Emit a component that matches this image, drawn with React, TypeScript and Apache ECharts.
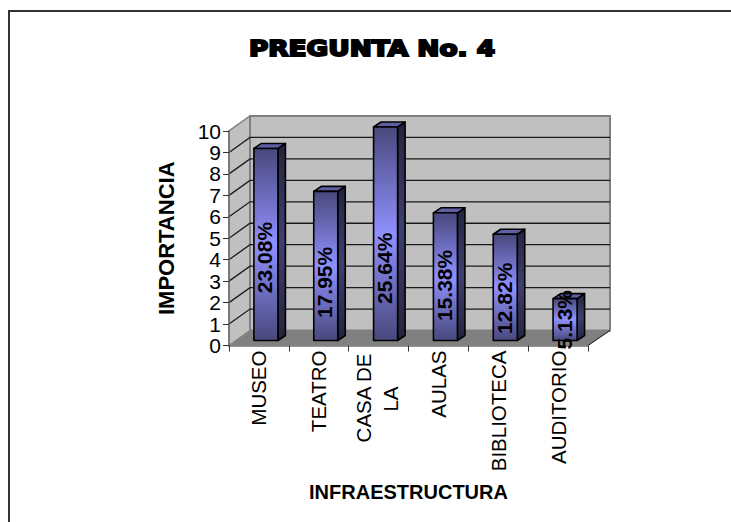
import React, { useEffect, useRef } from "react";
import * as echarts from "echarts";

const categories = ["MUSEO", "TEATRO", "CASA DE\nLA", "AULAS", "BIBLIOTECA", "AUDITORIO"];
const importance = [9, 7, 10, 6, 5, 2];
const percentLabels = ["23.08%", "17.95%", "25.64%", "15.38%", "12.82%", "5.13%"];
// Height on the value scale at which each rotated percentage is centred
const labelAnchors = [4.1, 2.94, 3.6, 2.8, 2.2, 1.2];
const valueTicks = [1, 2, 3, 4, 5, 6, 7, 8, 9];

const FONT = '"Liberation Sans", Arial, sans-serif';
const WALL_DX = 21;
const WALL_DY = -15;
const BAR_W = 24;
const BAR_DX = 7.5;
const BAR_DY = -5;
const BAR_SHIFT_X = 7;
const BAR_SHIFT_Y = -5;

function renderWalls(_params: any, api: any) {
  const band = api.size([1, 0])[0];
  const x0 = api.coord([0, 0])[0] - band / 2;
  const x1 = api.coord([categories.length - 1, 0])[0] + band / 2;
  const y0 = api.coord([0, 0])[1];
  const y10 = api.coord([0, 10])[1];
  const bx0 = x0 + WALL_DX;
  const bx1 = x1 + WALL_DX + 1;
  const by0 = y0 + WALL_DY;
  const by10 = y10 + WALL_DY;
  const children: any[] = [
    {
      type: "polygon",
      shape: { points: [[x0, y0], [bx0, by0], [bx0, by10], [x0, y10]] },
      style: { fill: "#c0c0c0", stroke: "#808080", lineWidth: 1.5 },
    },
    {
      type: "rect",
      shape: { x: bx0, y: by10, width: bx1 - bx0, height: by0 - by10 },
      style: { fill: "#c0c0c0", stroke: "#808080", lineWidth: 2 },
    },
    {
      type: "polygon",
      shape: { points: [[x0, y0], [bx0, by0], [bx1, by0], [x1, y0]] },
      style: { fill: "#808080" },
    },
    {
      type: "line",
      shape: { x1, y1: y0, x2: bx1, y2: by0 },
      style: { stroke: "#111", lineWidth: 1 },
    },
  ];
  valueTicks.forEach((v) => {
    const y = api.coord([0, v])[1];
    children.push({
      type: "polyline",
      shape: { points: [[x0, y], [bx0, y + WALL_DY], [bx1, y + WALL_DY]] },
      style: { fill: "none", stroke: "#1a1a1a", lineWidth: 1.3 },
    });
  });
  return { type: "group", children };
}

function renderBar(params: any, api: any) {
  const idx = api.value(0);
  const value = api.value(1);
  const [cx, top] = api.coord([idx, value]);
  const [, base] = api.coord([idx, 0]);
  const x = cx + BAR_SHIFT_X - BAR_W / 2;
  const yT = top + BAR_SHIFT_Y + 1;
  const yB = base + BAR_SHIFT_Y;
  const xR = x + BAR_W;
  const edge = { stroke: "#000", lineWidth: 1.6, lineJoin: "round" };
  const labelY = api.coord([idx, labelAnchors[params.dataIndex]])[1];
  return {
    type: "group",
    children: [
      {
        type: "polygon",
        shape: { points: [[xR, yT], [xR + BAR_DX, yT + BAR_DY], [xR + BAR_DX, yB + BAR_DY], [xR, yB]] },
        style: {
          ...edge,
          fill: new echarts.graphic.LinearGradient(0, 0, 0, 1, [
            { offset: 0, color: "#23233f" },
            { offset: 0.5, color: "#40406f" },
            { offset: 1, color: "#23233f" },
          ]),
        },
      },
      {
        type: "polygon",
        shape: { points: [[x, yT], [x + BAR_DX, yT + BAR_DY], [xR + BAR_DX, yT + BAR_DY], [xR, yT]] },
        style: { ...edge, fill: "#5f5fa6" },
      },
      {
        type: "rect",
        shape: { x, y: yT, width: BAR_W, height: yB - yT },
        style: {
          ...edge,
          fill: new echarts.graphic.LinearGradient(0, 0, 0, 1, [
            { offset: 0, color: "#48487c" },
            { offset: 0.5, color: "#9090ff" },
            { offset: 1, color: "#48487c" },
          ]),
        },
      },
      {
        type: "text",
        x: cx + BAR_SHIFT_X - 1,
        y: labelY,
        rotation: Math.PI / 2,
        style: {
          text: percentLabels[params.dataIndex],
          font: `bold 21px ${FONT}`,
          fill: "#000",
          align: "center",
          verticalAlign: "middle",
        },
      },
    ],
  };
}

export default function App() {
  const ref = useRef<HTMLDivElement>(null);
  useEffect(() => {
    const chart = echarts.init(ref.current!, undefined, { renderer: "svg" });
    chart.setOption({
      animation: false,
      backgroundColor: "#fff",
      grid: { left: 229, top: 131, width: 359, height: 214.5 },
      xAxis: {
        type: "category",
        data: categories,
        z: 2,
        name: "INFRAESTRUCTURA",
        nameLocation: "middle",
        nameGap: 136,
        nameTextStyle: { fontFamily: FONT, fontWeight: "bold", fontSize: 20, color: "#000" },
        axisLine: { lineStyle: { color: "#707070", width: 1.5 } },
        axisTick: { show: true, length: 6, lineStyle: { color: "#333", width: 1 } },
        axisLabel: {
          interval: 0,
          rotate: 90,
          margin: 5,
          fontFamily: FONT,
          fontSize: 20.5,
          color: "#000",
          hideOverlap: false,
          formatter: (v: string) =>
            v.includes("\n")
              ? v.split("\n").map((line, i) => `{${i === 0 ? "first" : "second"}|${line}}`).join("\n")
              : v,
          rich: {
            first: { fontFamily: FONT, fontSize: 20.5, color: "#000", lineHeight: 33, padding: [0, 3, 0, 0] },
            second: { fontFamily: FONT, fontSize: 20.5, color: "#000", lineHeight: 30, padding: [0, 36, 10, 0] },
          },
        },
      },
      yAxis: {
        type: "value",
        min: 0,
        max: 10,
        interval: 1,
        z: 2,
        name: "IMPORTANCIA",
        nameLocation: "middle",
        nameGap: 52,
        nameTextStyle: { fontFamily: FONT, fontWeight: "bold", fontSize: 22, color: "#000" },
        axisLine: { show: true, lineStyle: { color: "#707070", width: 1.5 } },
        axisTick: { show: true, length: 6, lineStyle: { color: "#333", width: 1 } },
        axisLabel: {
          margin: 8,
          fontFamily: FONT,
          fontSize: 21,
          color: "#000",
          showMinLabel: true,
          showMaxLabel: true,
        },
        splitLine: { show: false },
      },
      graphic: [
        {
          type: "polyline",
          silent: true,
          shape: { points: [[9, 522], [9, 11], [731, 11]] },
          style: { fill: "none", stroke: "#333", lineWidth: 2 },
        },
        {
          type: "text",
          x: 372,
          y: 48,
          scaleX: 1.2,
          style: {
            text: "PREGUNTA No. 4",
            font: 'bold 22px "DejaVu Sans", sans-serif',
            fill: "#000",
            stroke: "#000",
            lineWidth: 2,
            align: "center",
            verticalAlign: "middle",
          },
        },
      ],
      series: [
        {
          type: "custom",
          name: "walls",
          z: 1,
          silent: true,
          data: [[0, 0]],
          renderItem: renderWalls,
        },
        {
          type: "custom",
          name: "IMPORTANCIA",
          z: 3,
          data: importance.map((v, i) => [i, v]),
          encode: { x: 0, y: 1 },
          renderItem: renderBar,
        },
      ],
    });
    return () => chart.dispose();
  }, []);
  return <div ref={ref} style={{ position: "absolute", left: 0, top: 0, width: 731, height: 522 }} />;
}
